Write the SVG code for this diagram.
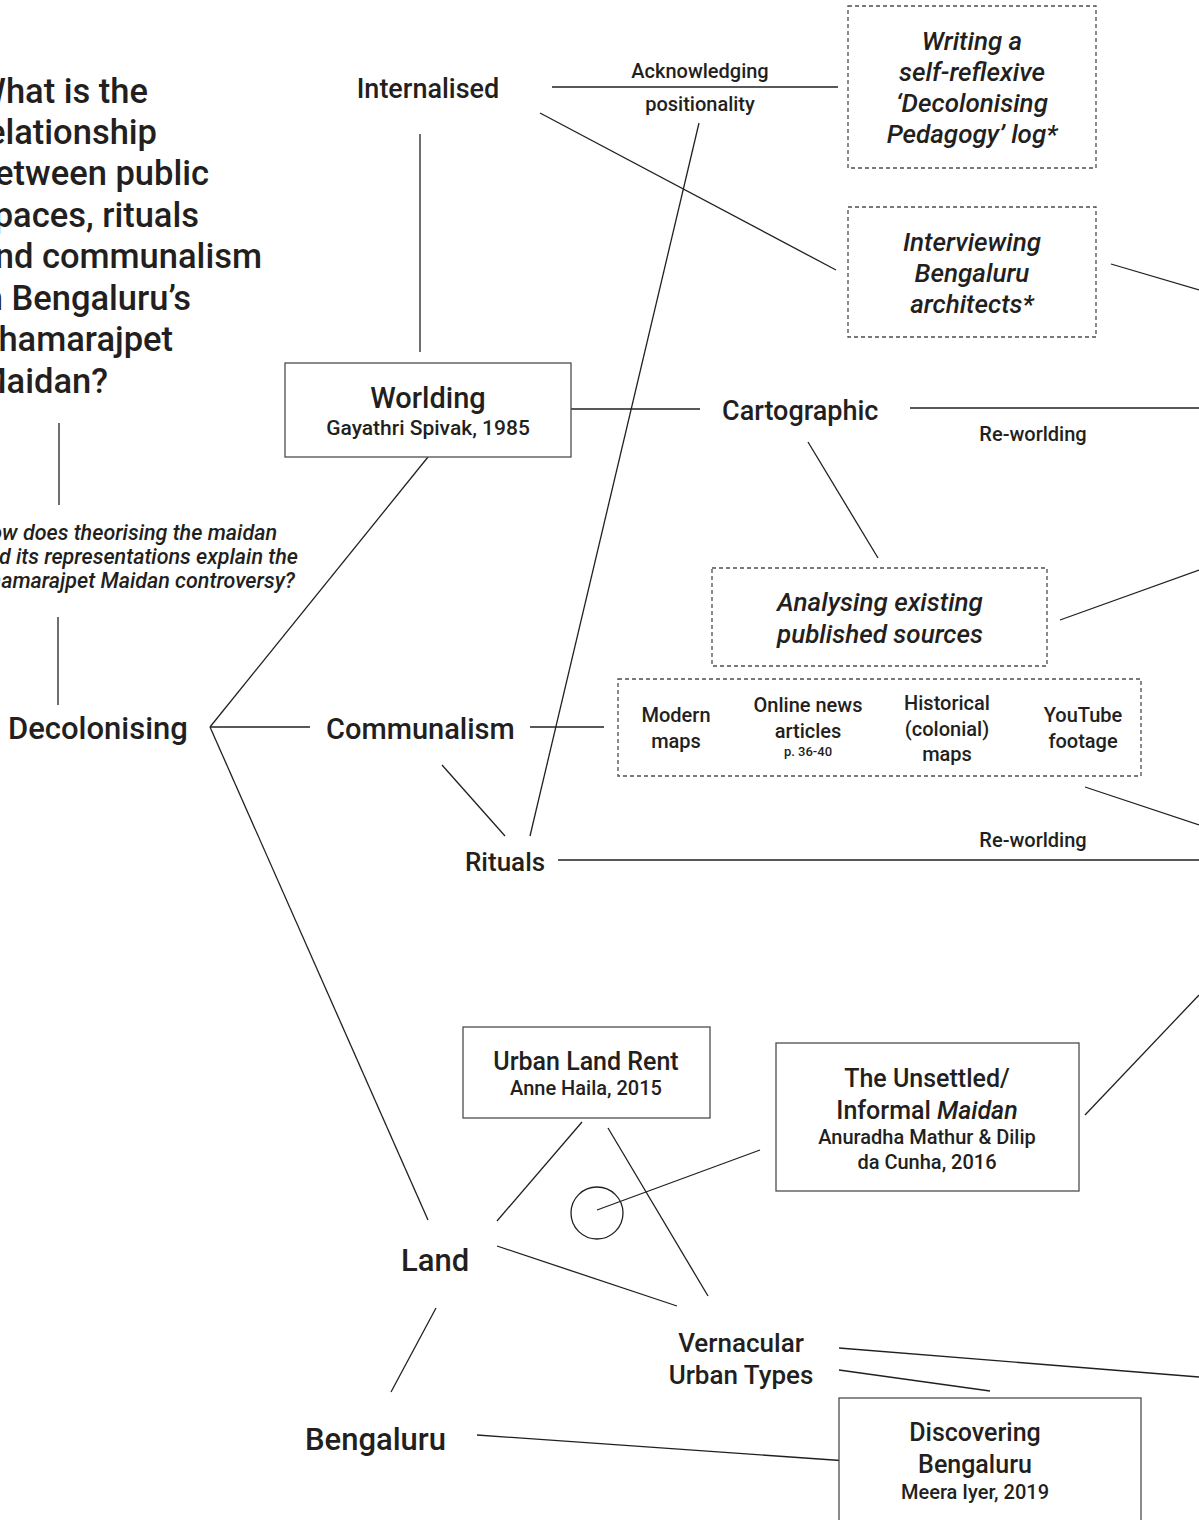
<svg xmlns="http://www.w3.org/2000/svg" width="1199" height="1520" viewBox="0 0 1199 1520">
<style>
text{font-family:Roboto,"Liberation Sans",sans-serif;fill:#231f20;font-weight:500}
.c{text-anchor:middle}
.e{text-anchor:end}
.i{font-style:italic}
line,circle{stroke:#231f20;stroke-width:1.3;fill:none}
.box{fill:#fff;stroke:#4d4d4d;stroke-width:1.3}
.dash{fill:#fff;stroke:#4d4d4d;stroke-width:1.3;stroke-dasharray:4 3}
</style>
<rect width="1199" height="1520" fill="#fff"/>
<g id="connectors">
<line x1="59" y1="423" x2="59" y2="505"/>
<line x1="58" y1="617" x2="58" y2="705"/>
<line x1="552" y1="87" x2="838" y2="87"/>
<line x1="420" y1="134" x2="420" y2="352"/>
<line x1="540" y1="113" x2="836" y2="270"/>
<line x1="699" y1="123" x2="530" y2="836"/>
<line x1="1111" y1="264" x2="1199" y2="290"/>
<line x1="571" y1="409" x2="700" y2="409"/>
<line x1="910" y1="408" x2="1199" y2="408"/>
<line x1="808" y1="442" x2="878" y2="558"/>
<line x1="1060" y1="620" x2="1199" y2="570"/>
<line x1="428" y1="457" x2="210" y2="727"/>
<line x1="210" y1="727" x2="310" y2="727"/>
<line x1="210" y1="727" x2="428" y2="1220"/>
<line x1="530" y1="727" x2="604" y2="727"/>
<line x1="442" y1="765" x2="505" y2="836"/>
<line x1="558" y1="860" x2="1199" y2="860"/>
<line x1="1085" y1="787" x2="1199" y2="825"/>
<line x1="1085" y1="1115" x2="1199" y2="995"/>
<line x1="597" y1="1210" x2="760" y2="1150"/>
<line x1="497" y1="1221" x2="582" y2="1122"/>
<line x1="608" y1="1128" x2="708" y2="1296"/>
<line x1="497" y1="1246" x2="677" y2="1306"/>
<line x1="436" y1="1308" x2="391" y2="1392"/>
<line x1="477" y1="1435" x2="876" y2="1463"/>
<line x1="839" y1="1348" x2="1199" y2="1377"/>
<line x1="839" y1="1370" x2="990" y2="1391"/>
<circle cx="597" cy="1213" r="26"/>
</g>
<g id="question">
<text class="e" font-size="34.5" x="148" y="103">What is the</text>
<text class="e" font-size="34.5" x="157" y="144">relationship</text>
<text class="e" font-size="34.5" x="209" y="185">between public</text>
<text class="e" font-size="34.5" x="199" y="227">spaces, rituals</text>
<text class="e" font-size="34.5" x="262" y="268">and communalism</text>
<text class="e" font-size="34.5" x="191" y="310">in Bengaluru’s</text>
<text class="e" font-size="34.5" x="173" y="351">Chamarajpet</text>
<text class="e" font-size="34.5" x="108" y="393">Maidan?</text>
</g>
<g id="subquestion">
<text class="e i" font-size="21.5" x="277" y="540">How does theorising the maidan</text>
<text class="e i" font-size="21.5" x="298" y="564">and its representations explain the</text>
<text class="e i" font-size="21.5" x="295" y="588">Chamarajpet Maidan controversy?</text>
</g>
<g id="decolonising"><text font-size="31" x="8" y="739">Decolonising</text></g>
<g id="internalised"><text class="c" font-size="27" x="428" y="98">Internalised</text></g>
<g id="acknowledging-label">
<text class="c" font-size="20" x="700" y="78">Acknowledging</text>
<text class="c" font-size="20" x="700" y="111">positionality</text>
</g>
<g id="writing-log">
<rect class="dash" x="848" y="6" width="248" height="162"/>
<text class="c i" font-size="26" x="972" y="50">Writing a</text>
<text class="c i" font-size="26" x="972" y="81">self-reflexive</text>
<text class="c i" font-size="26" x="972" y="112">‘Decolonising</text>
<text class="c i" font-size="26" x="972" y="143">Pedagogy’ log*</text>
</g>
<g id="interviewing">
<rect class="dash" x="848" y="207" width="248" height="130"/>
<text class="c i" font-size="26" x="972" y="251">Interviewing</text>
<text class="c i" font-size="26" x="972" y="282">Bengaluru</text>
<text class="c i" font-size="26" x="972" y="313">architects*</text>
</g>
<g id="worlding">
<rect class="box" x="285" y="363" width="286" height="94"/>
<text class="c" font-size="29" x="428" y="408">Worlding</text>
<text class="c" font-size="21" x="428" y="435">Gayathri Spivak, 1985</text>
</g>
<g id="cartographic"><text font-size="27" x="722" y="420">Cartographic</text></g>
<g id="reworlding-1"><text class="c" font-size="20" x="1033" y="441">Re-worlding</text></g>
<g id="analysing">
<rect class="dash" x="712" y="568" width="335" height="98"/>
<text class="c i" font-size="26" x="880" y="611">Analysing existing</text>
<text class="c i" font-size="26" x="880" y="643">published sources</text>
</g>
<g id="communalism"><text font-size="29" x="326" y="739">Communalism</text></g>
<g id="sources">
<rect class="dash" x="618" y="679" width="523" height="97"/>
<text class="c" font-size="20" x="676" y="722">Modern</text>
<text class="c" font-size="20" x="676" y="748">maps</text>
<text class="c" font-size="20" x="808" y="712">Online news</text>
<text class="c" font-size="20" x="808" y="738">articles</text>
<text class="c" font-size="13" x="808" y="756">p. 36-40</text>
<text class="c" font-size="20" x="947" y="710">Historical</text>
<text class="c" font-size="20" x="947" y="736">(colonial)</text>
<text class="c" font-size="20" x="947" y="761">maps</text>
<text class="c" font-size="20" x="1083" y="722">YouTube</text>
<text class="c" font-size="20" x="1083" y="748">footage</text>
</g>
<g id="rituals"><text font-size="26" x="465" y="871">Rituals</text></g>
<g id="reworlding-2"><text class="c" font-size="20" x="1033" y="847">Re-worlding</text></g>
<g id="urban-land-rent">
<rect class="box" x="463" y="1027" width="247" height="91"/>
<text class="c" font-size="25" x="586" y="1070">Urban Land Rent</text>
<text class="c" font-size="20" x="586" y="1095">Anne Haila, 2015</text>
</g>
<g id="unsettled-maidan">
<rect class="box" x="776" y="1043" width="303" height="148"/>
<text class="c" font-size="25" x="927" y="1087">The Unsettled/</text>
<text class="c" font-size="25" x="927" y="1119">Informal <tspan font-style="italic">Maidan</tspan></text>
<text class="c" font-size="20" x="927" y="1144">Anuradha Mathur &amp; Dilip</text>
<text class="c" font-size="20" x="927" y="1169">da Cunha, 2016</text>
</g>
<g id="land"><text font-size="31" x="401" y="1271">Land</text></g>
<g id="vernacular">
<text class="c" font-size="26" x="741" y="1352">Vernacular</text>
<text class="c" font-size="26" x="741" y="1384">Urban Types</text>
</g>
<g id="bengaluru"><text font-size="31" x="305" y="1450">Bengaluru</text></g>
<g id="discovering-bengaluru">
<rect class="box" x="839" y="1398" width="302" height="124"/>
<text class="c" font-size="25" x="975" y="1441">Discovering</text>
<text class="c" font-size="25" x="975" y="1473">Bengaluru</text>
<text class="c" font-size="20" x="975" y="1499">Meera Iyer, 2019</text>
</g>
</svg>
